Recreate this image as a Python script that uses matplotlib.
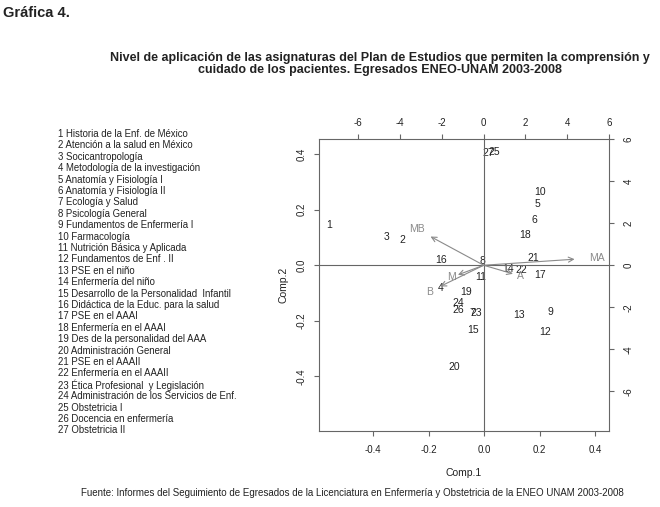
import numpy as np
import matplotlib
matplotlib.use("Agg")
import matplotlib.pyplot as plt

plt.rcParams['font.family'] = ['Liberation Sans', 'DejaVu Sans']
plt.rcParams['axes.unicode_minus'] = False

# subjects (scores on Comp.1 / Comp.2)
labels = [str(i) for i in range(1, 28)]
comp1 = [-0.557, -0.293, -0.352, -0.156, 0.193, 0.181, -0.043, -0.006, 0.238,
         0.203, -0.014, 0.220, 0.127, 0.086, -0.041, -0.156, 0.202, 0.149,
         -0.066, -0.106, 0.177, 0.134, -0.029, -0.092, 0.036, -0.094, 0.014]
comp2 = [0.146, 0.091, 0.103, -0.083, 0.222, 0.163, -0.171, 0.015, -0.169,
         0.263, -0.043, -0.240, -0.179, -0.014, -0.234, 0.020, -0.035, 0.109,
         -0.097, -0.365, 0.027, -0.017, -0.170, -0.134, 0.409, -0.161, 0.404]

# variables (loadings, top/right scale)
var_names = ['MB', 'M', 'B', 'A', 'MA']
load1 = [-3.18, -1.54, -2.60, 1.75, 5.44]
load2 = [1.71, -0.57, -1.26, -0.51, 0.36]

subjects = ["Historia de la Enf. de México", "Atención a la salud en México",
            "Socicantropología", "Metodología de la investigación",
            "Anatomía y Fisiología I", "Anatomía y Fisiología II",
            "Ecología y Salud", "Psicología General",
            "Fundamentos de Enfermería I", "Farmacología",
            "Nutrición Básica y Aplicada", "Fundamentos de Enf . II",
            "PSE en el niño", "Enfermería del niño",
            "Desarrollo de la Personalidad  Infantil",
            "Didáctica de la Educ. para la salud", "PSE en el AAAI",
            "Enfermería en el AAAI", "Des de la personalidad del AAA",
            "Administración General", "PSE en el AAAII",
            "Enfermería en el AAAII", "Ética Profesional  y Legislación",
            "Administración de los Servicios de Enf.", "Obstetricia I",
            "Docencia en enfermería", "Obstetricia II"]

ticks1 = [-0.4, -0.2, 0.0, 0.2, 0.4]
ticks2 = [-6, -4, -2, 0, 2, 4, 6]

W, H = 660, 507
fig = plt.figure(figsize=(6.6, 5.07), dpi=100)

pos = [319 / W, 1 - 431 / H, 290 / W, 292 / H]
ax = fig.add_axes(pos)
xlim = (-0.595, 0.45)
ylim = (-0.596, 0.454)
ax.set_xlim(xlim)
ax.set_ylim(ylim)

axis_col = '#666666'
txt_col = '#222222'
arr_col = '#8a8a8a'

for s in ax.spines.values():
    s.set_color(axis_col)
    s.set_linewidth(0.8)

for lab, x, y in zip(labels, comp1, comp2):
    ax.text(x, y, lab, ha='center', va='center', fontsize=7.5, color=txt_col)

ax.set_xticks(ticks1)
ax.set_yticks(ticks1)
ax.set_xticklabels([f"{t:.1f}" for t in ticks1])
ax.set_yticklabels([f"{t:.1f}" for t in ticks1], rotation=90, va='center')
ax.tick_params(axis='both', colors=axis_col, labelcolor=txt_col, labelsize=7,
               length=3.6, width=0.8)
ax.tick_params(axis='x', pad=6.5)
ax.tick_params(axis='y', pad=5.4)
ax.set_xlabel('Comp.1', fontsize=7.5, color=txt_col, labelpad=9)
ax.set_ylabel('Comp.2', fontsize=7.5, color=txt_col, labelpad=6)

# second axes for the loadings
k = 13.25
ax2 = fig.add_axes(pos, frameon=False)
ax2.patch.set_visible(False)
ax2.set_xlim(xlim[0] * k, xlim[1] * k)
ax2.set_ylim(ylim[0] * k, ylim[1] * k)
ax2.xaxis.tick_top()
ax2.yaxis.tick_right()
ax2.set_xticks(ticks2)
ax2.set_yticks(ticks2)
ax2.set_xticklabels([str(t) for t in ticks2])
ax2.set_yticklabels([str(t) for t in ticks2], rotation=90, va='center')
ax2.tick_params(axis='both', colors=axis_col, labelcolor=txt_col, labelsize=7,
                length=3.6, width=0.8)
ax2.tick_params(axis='x', pad=4.3)
ax2.tick_params(axis='y', pad=7)

ax2.axhline(0, color=axis_col, lw=0.8)
ax2.axvline(0, color=axis_col, lw=0.8)

for name, x, y in zip(var_names, load1, load2):
    ax2.annotate('', xy=(0.8 * x, 0.8 * y), xytext=(0, 0),
                 arrowprops=dict(arrowstyle='->', color=arr_col, lw=0.8,
                                 mutation_scale=9, shrinkA=0, shrinkB=0))
    ax2.text(x, y, name, ha='center', va='center', fontsize=7.5, color=arr_col)

# legend of subjects
for i, s in enumerate(subjects):
    fig.text(58 / W, 1 - (134 + i * 11.4) / H, f"{i + 1} {s}", fontsize=6.9,
             color=txt_col, va='center', ha='left')

fig.text(3 / W, 1 - 13 / H, 'Gráfica 4.', fontsize=10.5, fontweight='bold',
         color=txt_col, va='center', ha='left')
fig.text(380 / W, 1 - 63.5 / H,
         'Nivel de aplicación de las asignaturas del Plan de Estudios que permiten la comprensión y\n'
         'cuidado de los pacientes. Egresados ENEO-UNAM 2003-2008',
         fontsize=9, fontweight='bold', color=txt_col, ha='center', va='center',
         linespacing=1.0, family=['Liberation Sans Narrow', 'Liberation Sans'])
fig.text(352 / W, 1 - 493 / H,
         'Fuente: Informes del Seguimiento de Egresados de la Licenciatura en Enfermería y Obstetricia de la ENEO UNAM 2003-2008',
         fontsize=7, color=txt_col, ha='center', va='center')

fig.savefig('out.png', dpi=100)
